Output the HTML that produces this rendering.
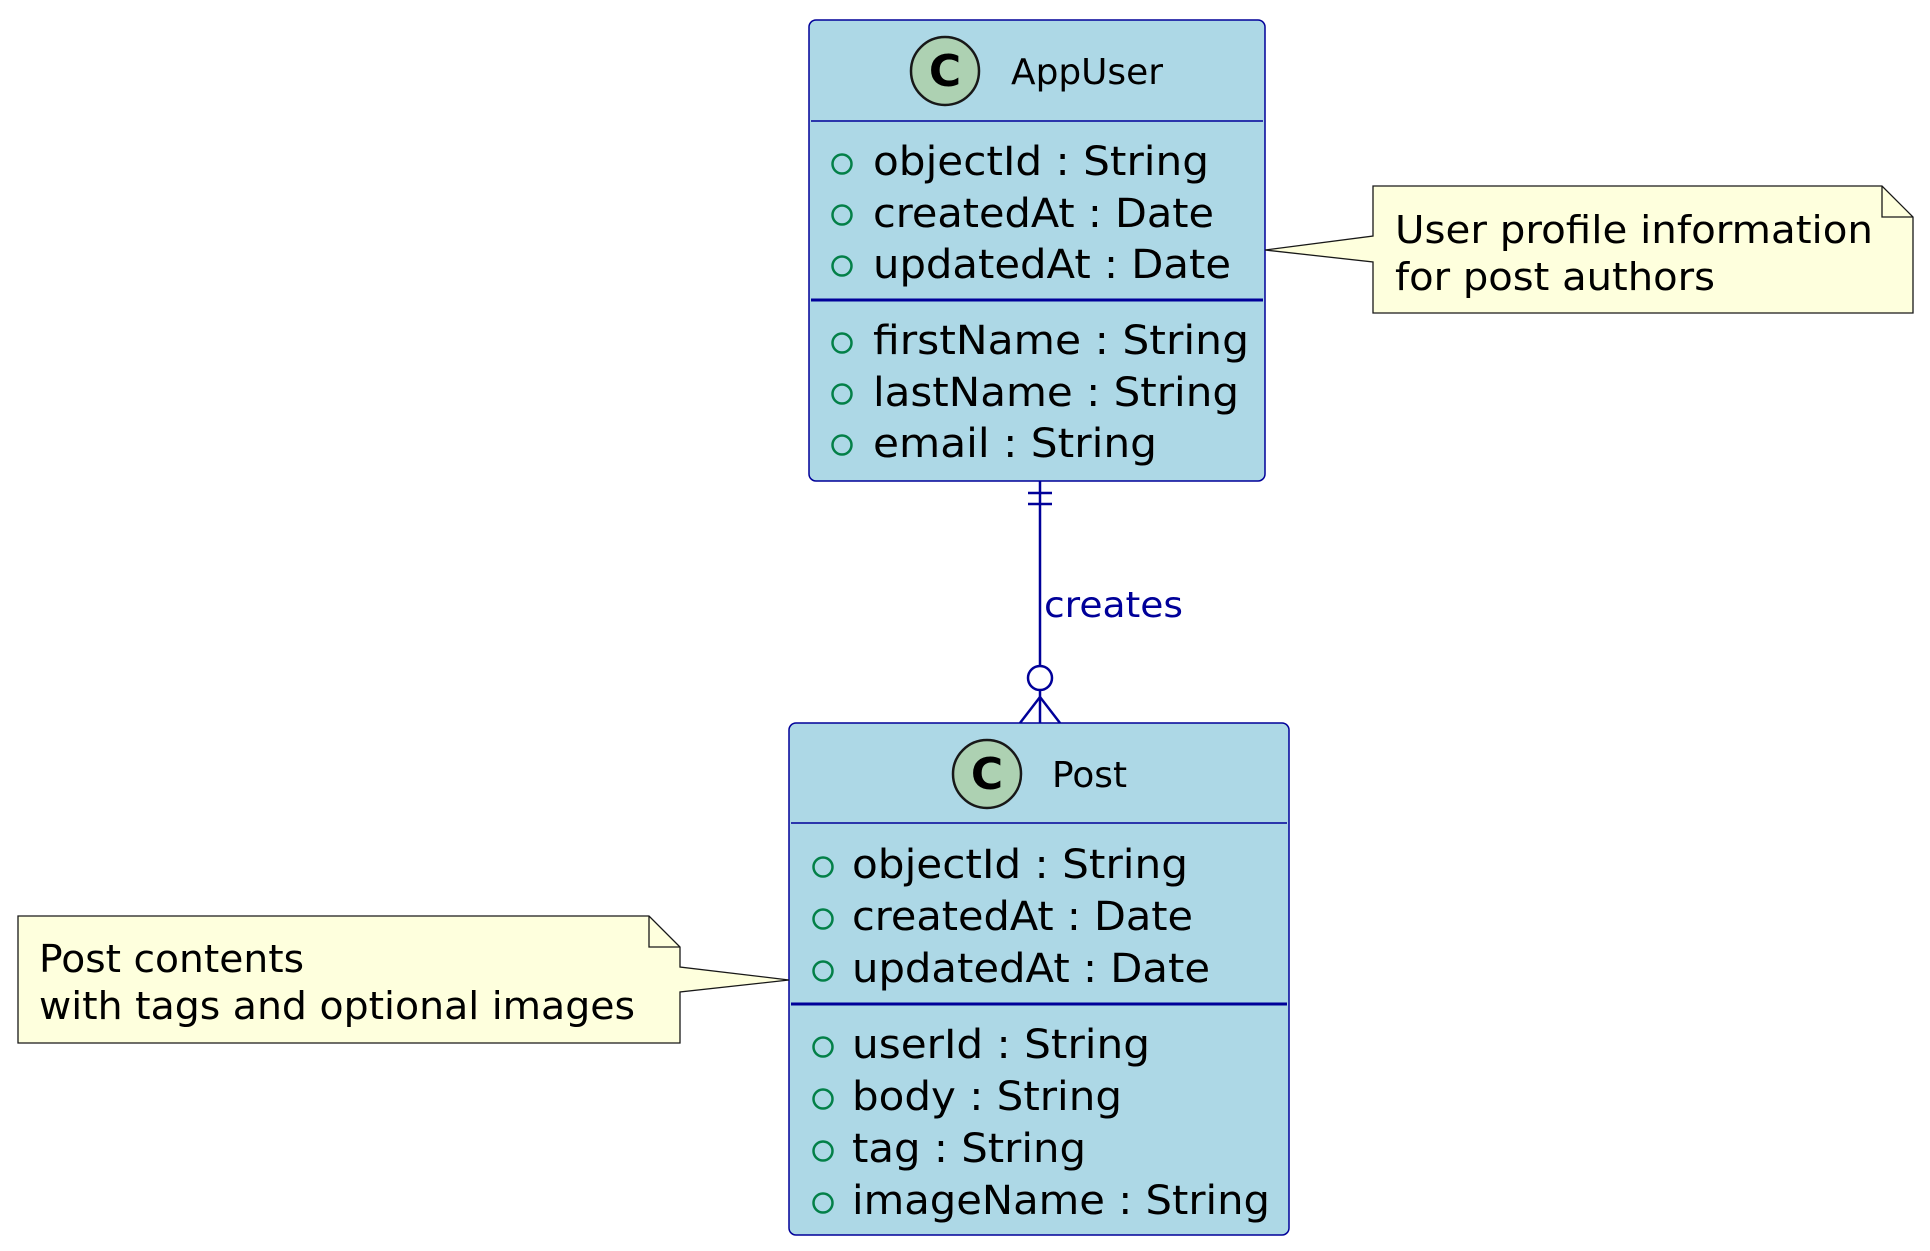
<!DOCTYPE html>
<html><head><meta charset="utf-8"><style>html,body{margin:0;padding:0;background:#fff;}svg{display:block}</style></head>
<body>
<svg width="1930" height="1251" viewBox="0 0 1930 1251" xmlns="http://www.w3.org/2000/svg" font-family="'DejaVu Sans','Liberation Sans',sans-serif">
<g transform="translate(-1,-1)">
<!-- AppUser -->
<rect x="810" y="21" width="456" height="461" rx="7" fill="#ADD8E6" stroke="#000099" stroke-width="1.5"/>
<line x1="812" y1="122" x2="1264" y2="122" stroke="#000099" stroke-width="1.5"/>
<line x1="812" y1="301" x2="1264" y2="301" stroke="#000099" stroke-width="3"/>
<circle cx="946" cy="72" r="34" fill="#ADD1B2" stroke="#181818" stroke-width="2.5"/>
<text x="946" y="87" font-size="44" font-weight="bold" text-anchor="middle" fill="#000">C</text>
<text x="1012" y="85" font-size="36" fill="#000" textLength="152" lengthAdjust="spacingAndGlyphs">AppUser</text>
<g fill="none" stroke="#038048" stroke-width="2.5">
<circle cx="843" cy="165" r="9.5"/><circle cx="843" cy="216" r="9.5"/><circle cx="843" cy="267" r="9.5"/>
<circle cx="843" cy="344" r="9.5"/><circle cx="843" cy="395" r="9.5"/><circle cx="843" cy="446" r="9.5"/>
</g>
<g font-size="40" fill="#000">
<text x="874" y="176" textLength="336" lengthAdjust="spacingAndGlyphs">objectId : String</text>
<text x="874" y="228" textLength="341" lengthAdjust="spacingAndGlyphs">createdAt : Date</text>
<text x="874" y="279" textLength="358" lengthAdjust="spacingAndGlyphs">updatedAt : Date</text>
<text x="874" y="355" textLength="376" lengthAdjust="spacingAndGlyphs">firstName : String</text>
<text x="874" y="407" textLength="366" lengthAdjust="spacingAndGlyphs">lastName : String</text>
<text x="874" y="458" textLength="284" lengthAdjust="spacingAndGlyphs">email : String</text>
</g>
<!-- Post -->
<rect x="790" y="724" width="500" height="512" rx="7" fill="#ADD8E6" stroke="#000099" stroke-width="1.5"/>
<line x1="792" y1="824" x2="1288" y2="824" stroke="#000099" stroke-width="1.5"/>
<line x1="792" y1="1005" x2="1288" y2="1005" stroke="#000099" stroke-width="3"/>
<circle cx="988" cy="775" r="34" fill="#ADD1B2" stroke="#181818" stroke-width="2.5"/>
<text x="988" y="790" font-size="44" font-weight="bold" text-anchor="middle" fill="#000">C</text>
<text x="1053" y="788" font-size="36" fill="#000" textLength="75" lengthAdjust="spacingAndGlyphs">Post</text>
<g fill="none" stroke="#038048" stroke-width="2.5">
<circle cx="824" cy="868" r="9.5"/><circle cx="824" cy="920" r="9.5"/><circle cx="824" cy="972" r="9.5"/>
<circle cx="824" cy="1048" r="9.5"/><circle cx="824" cy="1100" r="9.5"/><circle cx="824" cy="1152" r="9.5"/><circle cx="824" cy="1204" r="9.5"/>
</g>
<g font-size="40" fill="#000">
<text x="853" y="879" textLength="336" lengthAdjust="spacingAndGlyphs">objectId : String</text>
<text x="853" y="931" textLength="341" lengthAdjust="spacingAndGlyphs">createdAt : Date</text>
<text x="853" y="983" textLength="358" lengthAdjust="spacingAndGlyphs">updatedAt : Date</text>
<text x="853" y="1059" textLength="298" lengthAdjust="spacingAndGlyphs">userId : String</text>
<text x="853" y="1111" textLength="270" lengthAdjust="spacingAndGlyphs">body : String</text>
<text x="853" y="1163" textLength="234" lengthAdjust="spacingAndGlyphs">tag : String</text>
<text x="853" y="1215" textLength="418" lengthAdjust="spacingAndGlyphs">imageName : String</text>
</g>
<!-- connector -->
<g stroke="#000099" stroke-width="2.5" fill="none">
<line x1="1041" y1="482" x2="1041" y2="666"/>
<line x1="1029" y1="494" x2="1053" y2="494"/>
<line x1="1029" y1="505" x2="1053" y2="505"/>
<circle cx="1041" cy="679" r="12" fill="#fff"/>
<line x1="1041" y1="691" x2="1041" y2="724"/>
<polyline points="1021,724 1041,698 1061,724"/>
</g>
<text x="1045" y="618" font-size="36" fill="#000099" textLength="139" lengthAdjust="spacingAndGlyphs">creates</text>
<!-- right note -->
<path d="M1374,187 L1883,187 L1914,218 L1914,314 L1374,314 L1374,263 L1266,251 L1374,237 Z" fill="#FEFFDD" stroke="#181818" stroke-width="1.3"/>
<path d="M1883,187 L1883,218 L1914,218" fill="none" stroke="#181818" stroke-width="1.3"/>
<g font-size="38" fill="#000">
<text x="1396" y="244" textLength="478" lengthAdjust="spacingAndGlyphs">User profile information</text>
<text x="1396" y="291" textLength="320" lengthAdjust="spacingAndGlyphs">for post authors</text>
</g>
<!-- left note -->
<path d="M19,917 L650,917 L681,948 L681,968 L790,981 L681,993 L681,1044 L19,1044 Z" fill="#FEFFDD" stroke="#181818" stroke-width="1.3"/>
<path d="M650,917 L650,948 L681,948" fill="none" stroke="#181818" stroke-width="1.3"/>
<g font-size="38" fill="#000">
<text x="40" y="973" textLength="265" lengthAdjust="spacingAndGlyphs">Post contents</text>
<text x="40" y="1020" textLength="596" lengthAdjust="spacingAndGlyphs">with tags and optional images</text>
</g>
</g>
</svg>
</body></html>
